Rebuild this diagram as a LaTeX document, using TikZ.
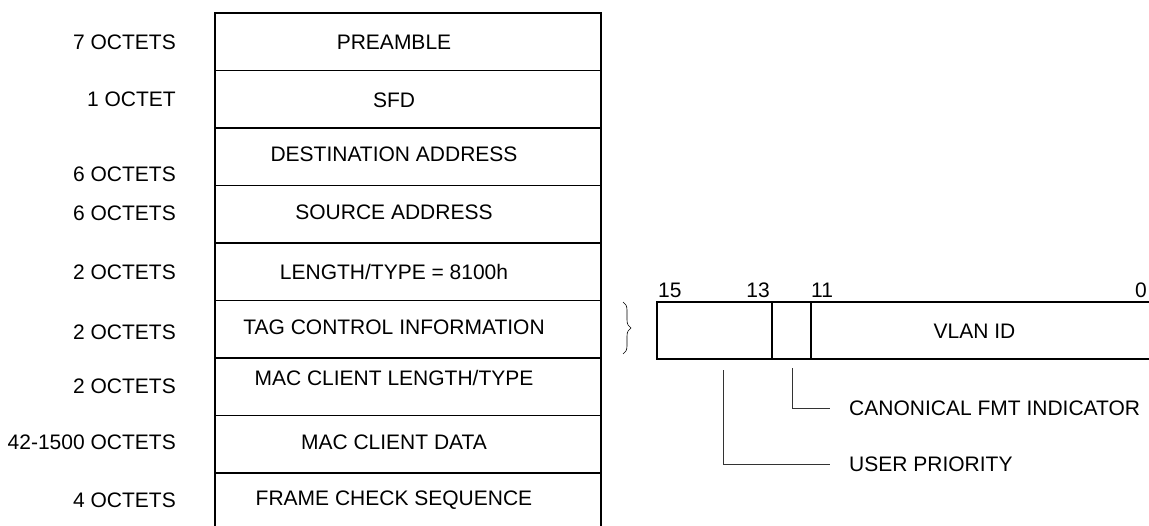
\documentclass[tikz,border=0pt]{standalone}
\usepackage{fontspec}
\setmainfont{Liberation Sans}
\usetikzlibrary{positioning, decorations.pathreplacing}

\begin{document}
\begin{tikzpicture}[x=1pt, y=-1pt]
		\tikzstyle{Row} = [rectangle, minimum width=386pt, minimum height=57.5pt, inner sep=0pt, outer sep=0pt, draw=black, line width=1.6pt]
		\tikzstyle{RowText} = [font=\fontsize{21}{25}\selectfont, text height=15pt, text depth=0pt, inner sep=0pt]
		\tikzstyle{Octets} = [RowText, anchor=east]
		\tikzstyle{Bits} = [rectangle, minimum height=57pt, inner sep=0pt, outer sep=0pt, draw=black, line width=1.4pt]
		\tikzstyle{leader} = [line width=1pt, black!80]
		
		\useasboundingbox (0,0) rectangle (1149,525);
		
		% the frame, one row per field
		\node (preamble) [Row, anchor=north west] at (215,13) {};
		\node (sfd) [Row, below=0pt of preamble] {};
		\node (dest) [Row, below=0pt of sfd] {};
		\node (src) [Row, below=0pt of dest] {};
		\node (lentype) [Row, below=0pt of src] {};
		\node (tci) [Row, below=0pt of lentype] {};
		\node (clientlen) [Row, below=0pt of tci] {};
		\node (clientdata) [Row, below=0pt of clientlen] {};
		\node (fcs) [Row, below=0pt of clientdata] {};
		
		\node (preambleText) [RowText] at (394,42) {PREAMBLE};
		\node (sfdText) [RowText] at (394,100) {SFD};
		\node (destText) [RowText] at (394,154) {DESTINATION ADDRESS};
		\node (srcText) [RowText] at (394,212) {SOURCE ADDRESS};
		\node (lentypeText) [RowText] at (394,272) {LENGTH/TYPE = 8100h};
		\node (tciText) [RowText] at (394,327) {TAG CONTROL INFORMATION};
		\node (clientlenText) [RowText] at (394,378) {MAC CLIENT LENGTH/TYPE};
		\node (clientdataText) [RowText] at (394,442) {MAC CLIENT DATA};
		\node (fcsText) [RowText] at (394,498) {FRAME CHECK SEQUENCE};
		
		% sizes
		\node (preambleSize) [Octets] at (176,42) {7 OCTETS};
		\node (sfdSize) [Octets] at (176,99) {1 OCTET};
		\node (destSize) [Octets] at (176,174) {6 OCTETS};
		\node (srcSize) [Octets] at (176,213) {6 OCTETS};
		\node (lentypeSize) [Octets] at (176,272) {2 OCTETS};
		\node (tciSize) [Octets] at (176,332) {2 OCTETS};
		\node (clientlenSize) [Octets] at (176,386) {2 OCTETS};
		\node (clientdataSize) [Octets] at (176,442) {42-1500 OCTETS};
		\node (fcsSize) [Octets] at (176,500) {4 OCTETS};
		
		% tag control information, bit by bit
		\coordinate (braceTop) at (623,302);
		\coordinate (braceBot) at (623,354);
		\draw [decorate, decoration={brace, amplitude=8pt}, line width=0.6pt] (braceTop) -- (braceBot);
		
		\node (prio) [Bits, minimum width=115pt, anchor=north west] at (657,302) {};
		\node (cfi) [Bits, minimum width=39pt, right=0pt of prio] {};
		\node (vid) [Bits, minimum width=341pt, right=0pt of cfi] {};
		\node (vidText) [RowText] at ([xshift=-7pt]vid.center) {VLAN ID};
		
		\node (bit15) [RowText, anchor=south west] at ([xshift=1pt, yshift=4pt]prio.north west) {15};
		\node (bit13) [RowText, anchor=south east] at ([xshift=-2pt, yshift=4pt]prio.north east) {13};
		\node (bit11) [RowText, anchor=south west] at ([yshift=4pt]cfi.north east) {11};
		\node (bit0) [RowText, anchor=south east] at ([xshift=-5pt, yshift=4pt]vid.north east) {0};
		
		\node (cfiText) [RowText, anchor=west] at (849,408) {CANONICAL FMT INDICATOR};
		\node (prioText) [RowText, anchor=west] at (849,464) {USER PRIORITY};
		\coordinate (cfiTop) at (792,368);
		\coordinate (prioTop) at (723,370);
		\draw [leader] (cfiTop) |- ([xshift=-19pt]cfiText.west);
		\draw [leader] (prioTop) |- ([xshift=-19pt]prioText.west);
\end{tikzpicture}
\end{document}
